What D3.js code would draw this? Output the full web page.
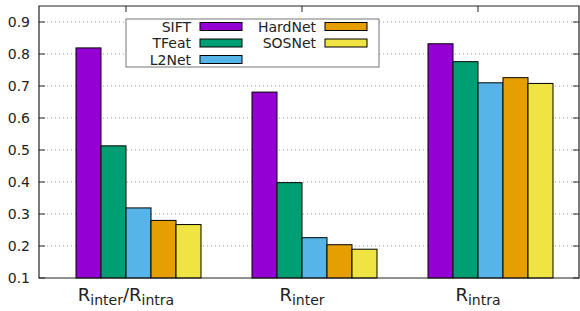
<!DOCTYPE html>
<html>
<head>
<meta charset="utf-8">
<script src="https://cdn.jsdelivr.net/npm/d3@7"></script>
<style>
  body { margin: 0; background: #fff; }
  svg { display: block; font-family: "DejaVu Sans", sans-serif; }
</style>
</head>
<body>
<svg width="580" height="311"></svg>
<script>
var groups = ["ratio", "inter", "intra"];
var groupLabels = [["inter", "/", "intra"], ["inter"], ["intra"]];
var series = ["SIFT", "TFeat", "L2Net", "HardNet", "SOSNet"];
var colors = ["#9400d3", "#009e73", "#56b4e9", "#e69f00", "#f0e442"];
var values = [
    [0.819, 0.513, 0.319, 0.280, 0.267],  // Rinter/Rintra
    [0.681, 0.398, 0.226, 0.204, 0.190],  // Rinter
    [0.832, 0.776, 0.710, 0.726, 0.708]   // Rintra
];
var yTicks = [0.1, 0.2, 0.3, 0.4, 0.5, 0.6, 0.7, 0.8, 0.9];

var svg = d3.select("svg");
var mLeft = 39, mRight = 579, mTop = 6, mBottom = 278;

var y = d3.scaleLinear().domain([0.1, 0.95]).range([mBottom, mTop]);
var x = d3.scaleBand().domain(groups).range([38, 566]);
var xi = d3.scaleBand().domain(series).range([-50, 75]);

// grid
svg.append("g").selectAll("line")
    .data(yTicks.slice(1))
    .enter().append("line")
    .attr("x1", mLeft).attr("x2", mRight)
    .attr("y1", d => y(d)).attr("y2", d => y(d))
    .attr("stroke", "#a0a0a0").attr("stroke-width", 1)
    .attr("stroke-dasharray", "1,3");

// bars
var g = svg.append("g").selectAll("g")
    .data(groups)
    .enter().append("g")
    .attr("transform", d => "translate(" + (x(d) + x.bandwidth() / 2) + ",0)");

g.selectAll("rect")
    .data((d, i) => values[i].map((v, j) => ({ v: v, s: series[j], c: colors[j] })))
    .enter().append("rect")
    .attr("x", d => xi(d.s))
    .attr("width", xi.bandwidth())
    .attr("y", d => y(d.v))
    .attr("height", d => mBottom - y(d.v))
    .attr("fill", d => d.c)
    .attr("stroke", "#000").attr("stroke-width", 1);

// border
svg.append("path")
    .attr("d", "M" + mLeft + "," + mTop + "V" + mBottom + "H" + mRight + "V" + mTop + "Z")
    .attr("fill", "none").attr("stroke", "#222").attr("stroke-width", 1.2);

// y ticks left and right
var ticks = svg.append("g");
yTicks.forEach(function (t) {
    ticks.append("line").attr("x1", mLeft).attr("x2", mLeft + 6)
        .attr("y1", y(t)).attr("y2", y(t)).attr("stroke", "#222");
    ticks.append("line").attr("x1", mRight - 6).attr("x2", mRight)
        .attr("y1", y(t)).attr("y2", y(t)).attr("stroke", "#222");
    ticks.append("text").attr("x", 30).attr("y", y(t)).attr("dy", "0.36em")
        .attr("text-anchor", "end").attr("font-size", 14).attr("fill", "#222")
        .text(d3.format(".1f")(t));
});

// x ticks (top) and labels
groups.forEach(function (gname, i) {
    var cx = x(gname) + x.bandwidth() / 2;
    ticks.append("line").attr("x1", cx).attr("x2", cx)
        .attr("y1", mTop).attr("y2", mTop + 6).attr("stroke", "#222");
    var t = ticks.append("text").attr("x", cx).attr("y", 301)
        .attr("text-anchor", "middle").attr("fill", "#222");
    groupLabels[i].forEach(function (p) {
        if (p === "/") {
            t.append("tspan").attr("font-size", 18).attr("dy", -4).text("/");
        } else {
            t.append("tspan").attr("font-size", 18).text("R");
            t.append("tspan").attr("font-size", 14).attr("dy", 4).text(p);
        }
    });
});

// legend
var legend = svg.append("g");
legend.append("rect")
    .attr("x", 126).attr("y", 19).attr("width", 253).attr("height", 48)
    .attr("fill", "#fff").attr("stroke", "#777").attr("stroke-width", 1);
series.forEach(function (s, i) {
    var col = i < 3 ? 0 : 1, row = i < 3 ? i : i - 3;
    var tx = col === 0 ? 191 : 316;
    var sx = col === 0 ? 200 : 325;
    var cy = 26.5 + row * 16.5;
    legend.append("text").attr("x", tx).attr("y", cy).attr("dy", "0.36em")
        .attr("text-anchor", "end").attr("font-size", 14).attr("fill", "#222").text(s);
    legend.append("rect").attr("x", sx).attr("y", cy - 4).attr("width", 42).attr("height", 8)
        .attr("fill", colors[i]).attr("stroke", "#000").attr("stroke-width", 1);
});
</script>
</body>
</html>
